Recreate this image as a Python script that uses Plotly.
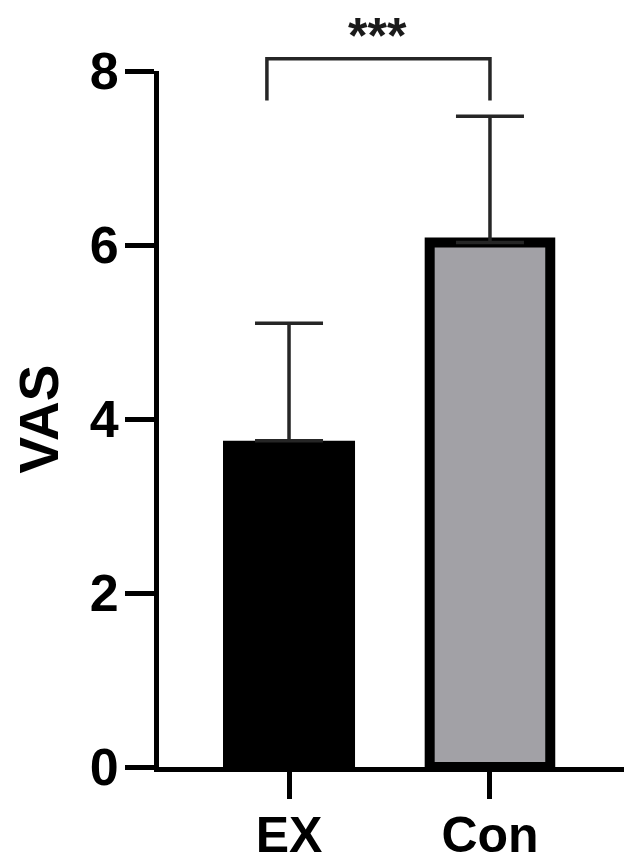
import plotly.graph_objects as go

# data
groups = ["EX", "Con"]
means = [3.75, 6.03]
sd = [1.35, 1.45]
bar_colors = ["#000000", "#A2A1A6"]

# significance bracket between the two groups (values on the VAS scale)
bracket_x = [-0.11, -0.11, 1.0, 1.0]
bracket_y = [7.66, 8.14, 8.14, 7.66]
sig_label = "***"
sig_x = 0.44
sig_y = 8.40

Y_MAX = 8
FONT = "Arial, Liberation Sans, sans-serif"

fig = go.Figure()

fig.add_bar(
    x=[0, 1],
    y=means,
    width=[0.657, 0.6],
    marker=dict(color=bar_colors, line=dict(color="black", width=[0, 10])),
    error_y=dict(
        type="data",
        symmetric=False,
        array=sd,
        arrayminus=[0, 0],
        color="#262626",
        thickness=3.5,
        width=34,
    ),
    showlegend=False,
)

# bracket goes above the plot area, so use paper y (range starts at 0)
path = "M " + " L ".join(f"{x},{y / Y_MAX}" for x, y in zip(bracket_x, bracket_y))
fig.add_shape(
    type="path",
    path=path,
    xref="x",
    yref="paper",
    line=dict(color="#262626", width=3.5),
)

fig.add_annotation(
    x=sig_x,
    y=sig_y / Y_MAX,
    xref="x",
    yref="paper",
    text=sig_label,
    showarrow=False,
    font=dict(family=FONT, size=50, color="#1a1a1a", weight="bold"),
    yanchor="middle",
)

fig.update_xaxes(
    range=[-0.647, 1.667],
    tickmode="array",
    tickvals=[0, 1],
    ticktext=groups,
    showline=True,
    linecolor="black",
    linewidth=5,
    ticks="outside",
    ticklen=27,
    tickwidth=5,
    tickcolor="black",
    ticklabelstandoff=-7,
    tickfont=dict(family=FONT, size=50, color="black", weight="bold"),
    showgrid=False,
    zeroline=False,
)

fig.update_yaxes(
    range=[0, Y_MAX],
    tickvals=[0, 2, 4, 6, 8],
    showline=True,
    linecolor="black",
    linewidth=5,
    ticks="outside",
    ticklen=29,
    tickwidth=5,
    tickcolor="black",
    ticklabelstandoff=-4,
    tickfont=dict(family=FONT, size=52, color="black", weight="bold"),
    title=dict(text="VAS", font=dict(family=FONT, size=55, color="black", weight="bold"), standoff=22),
    showgrid=False,
    zeroline=False,
)

fig.update_layout(
    width=637,
    height=867,
    margin=dict(l=151, r=21, t=63, b=104),
    plot_bgcolor="white",
    paper_bgcolor="white",
)

fig.write_html("out.html")
